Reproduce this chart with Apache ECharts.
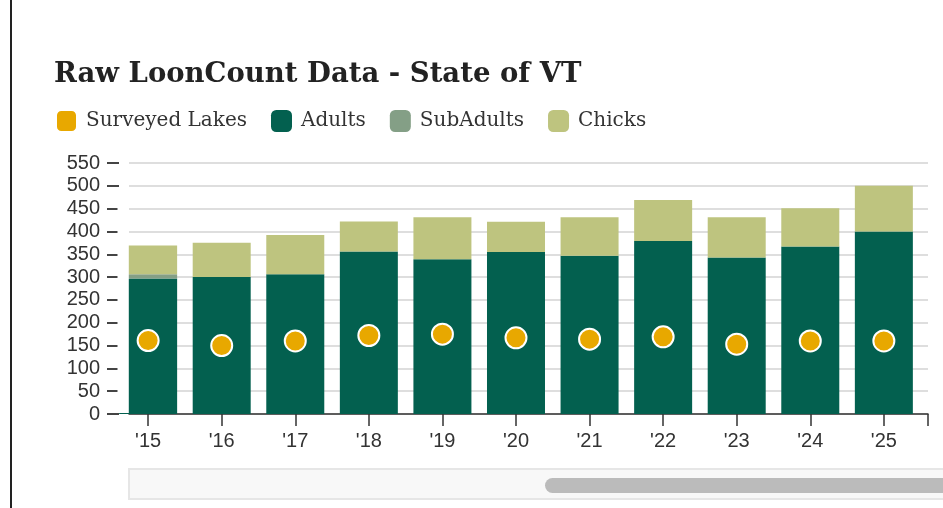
<!DOCTYPE html>
<html>
<head>
<meta charset="utf-8">
<script src="https://cdn.jsdelivr.net/npm/echarts@6/dist/echarts.min.js"></script>
<style>
html, body { margin: 0; padding: 0; background: #fff; }
#chart { width: 943px; height: 508px; }
</style>
</head>
<body>
<div id="chart"></div>
<script>
// raw counts per year
const years = [2015, 2016, 2017, 2018, 2019, 2020, 2021, 2022, 2023, 2024, 2025]
const adults = [297, 300, 306, 356, 339, 355, 347, 379, 343, 367, 400]
const subAdults = [9, 0, 0, 0, 0, 0, 0, 0, 0, 0, 0]
const chicks = [63, 75, 86, 66, 92, 66, 84, 90, 88, 84, 100]
const surveyedLakes = [161, 150, 160, 172, 175, 167, 164, 169, 153, 160, 160]

// visible window of the scrolled x axis, y scale
const xMin = 2014.74
const xMax = 2025.6
const yMax = 550
const yStep = 50

// [value, year] so the stack runs on the count, not the year
const pairs = arr => years.map((y, i) => [arr[i], y])
const enc = { x: 1, y: 0 }

const chart = echarts.init(document.getElementById('chart'))
chart.setOption({
  animation: false,
  title: {
    text: 'Raw LoonCount Data - State of VT',
    left: 54,
    top: 61,
    padding: 0,
    textStyle: { fontFamily: 'DejaVu Serif', fontWeight: 'bold', fontSize: 27.5, color: '#222' },
  },
  legend: {
    left: 55,
    top: 109,
    padding: 0,
    icon: 'roundRect',
    itemWidth: 21,
    itemHeight: 22,
    itemGap: 24,
    textStyle: { fontFamily: 'DejaVu Serif', fontSize: 20, color: '#333', padding: [0, 0, 0, 4] },
    data: ['Surveyed Lakes', 'Adults', 'SubAdults', 'Chicks'],
  },
  grid: { left: 129, right: 15, top: 163, bottom: 94 },
  xAxis: {
    type: 'value',
    min: xMin,
    max: xMax,
    splitLine: { show: false },
    axisLine: { show: true, lineStyle: { color: '#333', width: 1.5 } },
    axisTick: { show: true, length: 12, lineStyle: { color: '#333', width: 1.5 }, customValues: [...years, xMax] },
    axisLabel: {
      customValues: years,
      formatter: v => "'" + String(v).slice(2),
      fontFamily: 'Liberation Sans',
      fontSize: 20,
      color: '#333',
      margin: 17,
    },
  },
  yAxis: {
    type: 'value',
    min: 0,
    max: yMax,
    interval: yStep,
    offset: 10,
    axisLine: { show: false },
    axisTick: { show: true, length: 12, lineStyle: { color: '#444', width: 2 } },
    axisLabel: { fontFamily: 'Liberation Sans', fontSize: 20, color: '#333', margin: 19 },
    splitLine: { lineStyle: { color: '#dedede', width: 2 } },
  },
  series: [
    {
      name: 'Adults', type: 'bar', stack: 'birds', barWidth: 58, encode: enc,
      itemStyle: { color: '#03604f' }, data: pairs(adults),
    },
    {
      name: 'SubAdults', type: 'bar', stack: 'birds', barWidth: 58, encode: enc,
      itemStyle: { color: '#849f86' }, data: pairs(subAdults),
    },
    {
      name: 'Chicks', type: 'bar', stack: 'birds', barWidth: 58, encode: enc,
      itemStyle: { color: '#bec47f' }, data: pairs(chicks),
    },
    {
      name: 'Surveyed Lakes', type: 'scatter', symbolSize: 21, z: 5, encode: enc,
      itemStyle: { color: '#e8a800', borderColor: '#fff', borderWidth: 2, opacity: 1 },
      data: pairs(surveyedLakes),
    },
  ],
  graphic: [
    // page border on the left
    { type: 'rect', shape: { x: 10, y: 0, width: 2, height: 508 }, style: { fill: '#222' }, silent: true },
    // value axes don't clip bars, so hide the part of '15 left of the scroll window
    { type: 'rect', z: 100, shape: { x: 117.5, y: 200, width: 11.3, height: 213 }, style: { fill: '#fff' }, silent: true },
    // scrollbar track + thumb
    { type: 'rect', shape: { x: 129, y: 469, width: 830, height: 30 }, style: { fill: '#f8f8f8', stroke: '#e6e6e6', lineWidth: 2 }, silent: true },
    { type: 'rect', shape: { x: 545, y: 478, width: 420, height: 15, r: 7.5 }, style: { fill: '#bbbbbb' }, silent: true },
  ],
})
</script>
</body>
</html>
